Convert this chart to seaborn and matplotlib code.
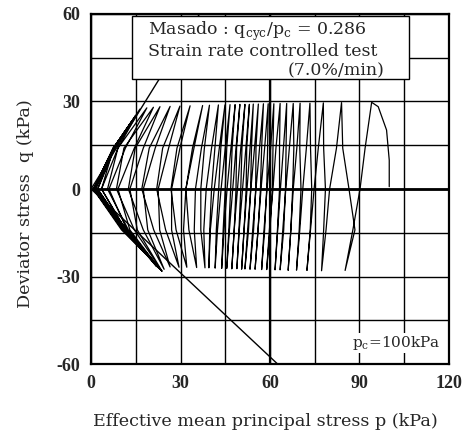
import numpy as np
import pandas as pd
import matplotlib
matplotlib.use("Agg")
import matplotlib.pyplot as plt
import seaborn as sns
from matplotlib.patches import Rectangle

# initial loading from p_c = 100 kPa up to the first peak
start_p = [100.0, 100.0, 99.1, 96.3]
start_q = [0.8, 9.9, 20.2, 28.2]

# one entry per cycle (kPa)
# unloading: peak -> q=+14 -> q=0 -> q=-14 -> trough
# reloading: trough -> q=-14 -> q=0 -> q=+14 -> next peak
peak_p = [94.1, 84.0, 77.9, 73.4, 70.1, 67.8, 65.6, 63.4, 61.3, 59.4, 57.8, 56.1,
          54.4, 53.1, 51.6, 49.9, 48.3, 46.6, 44.9, 42.7, 39.7, 37.4, 33.2, 29.8,
          26.5, 23.1, 20.9, 18.7, 16.4, 14.8, 13.5, 12.6, 13.2, 11.8, 12.4]
peak_q = [29.7, 29.6, 29.5, 29.4, 29.4, 29.3, 29.3, 29.3, 29.2, 29.2, 29.2, 29.1,
          29.1, 29.0, 29.0, 29.0, 28.9, 28.9, 28.8, 28.8, 28.7, 28.6, 28.5, 28.4,
          28.3, 28.2, 28.0, 27.8, 27.4, 25.0, 23.0, 21.5, 22.5, 20.5, 21.0]
unload_hi_p = [91.9, 82.3, 76.2, 72.2, 69.0, 66.5, 64.5, 62.0, 60.2, 58.2, 56.5, 54.8,
               53.3, 51.9, 50.2, 48.6, 46.9, 45.0, 43.0, 40.4, 37.0, 34.5, 29.8, 26.0,
               21.5, 17.5, 14.5, 11.5, 9.0, 8.0, 7.4, 7.6, 7.9, 7.5, 7.4]
unload_0_p = [90.2, 80.0, 74.8, 71.0, 67.8, 65.3, 63.5, 61.0, 59.0, 57.0, 55.3, 53.6,
              52.3, 50.8, 49.1, 47.5, 45.6, 43.6, 41.3, 38.6, 35.0, 31.8, 27.0, 22.5,
              17.5, 13.0, 9.0, 6.0, 3.5, 2.2, 1.5, 1.2, 1.0, 0.9, 0.8]
unload_lo_p = [87.8, 78.8, 73.6, 70.0, 67.0, 64.3, 62.6, 59.8, 58.0, 56.0, 54.2, 52.5,
               51.3, 49.7, 48.0, 46.4, 44.6, 42.4, 40.0, 37.8, 34.6, 31.0, 27.0, 23.0,
               19.0, 15.5, 13.0, 12.0, 11.6, 11.8, 11.2, 12.0, 11.0, 11.7, 10.8]
trough_p = [85.2, 77.3, 72.4, 68.9, 66.1, 63.4, 61.7, 58.9, 57.2, 55.0, 53.3, 51.6,
            50.5, 48.9, 47.2, 45.5, 43.8, 41.6, 39.5, 38.2, 35.4, 32.1, 29.5, 26.5,
            24.5, 23.7, 22.8, 22.0, 23.0, 23.5, 22.5, 23.8, 21.0, 22.6, 20.5]
trough_q = [-27.9, -28.0, -27.9, -27.8, -27.8, -27.7, -27.7, -27.6, -27.6, -27.5, -27.5, -27.4,
            -27.4, -27.3, -27.3, -27.2, -27.2, -27.1, -27.0, -27.0, -26.9, -26.8, -26.8, -26.7,
            -27.5, -28.0, -27.2, -26.6, -27.4, -27.8, -26.8, -28.2, -25.0, -27.0, -24.5]
reload_lo_p = [88.5, 78.0, 73.5, 69.8, 67.0, 64.6, 62.5, 60.0, 58.2, 56.0, 54.5, 52.8,
               51.3, 49.6, 48.0, 46.2, 44.3, 42.0, 39.8, 36.8, 32.8, 28.5, 25.0, 21.0,
               17.5, 14.5, 12.5, 11.5, 11.2, 11.6, 11.0, 11.8, 10.6, 11.4, 10.2]
reload_0_p = [86.5, 78.6, 74.0, 70.4, 67.6, 65.2, 63.2, 60.8, 58.9, 56.8, 55.2, 53.5,
              52.0, 50.2, 48.6, 46.8, 45.0, 42.8, 40.4, 36.8, 31.8, 26.8, 22.0, 17.0,
              12.5, 8.5, 5.5, 3.5, 2.2, 1.5, 1.2, 1.0, 0.8, 0.8, 0.7]
reload_hi_p = [84.4, 78.0, 73.6, 70.0, 68.0, 65.4, 63.2, 61.0, 59.2, 57.2, 55.3, 53.8,
               52.2, 50.6, 48.8, 47.3, 45.5, 43.5, 41.5, 38.0, 34.0, 28.8, 24.0, 19.5,
               14.8, 11.0, 9.0, 7.5, 7.6, 7.6, 7.8, 7.9, 7.6, 7.4, 7.7]

# critical state lines (compression / extension side)
csl_c_p = [0.0, 36.4]
csl_c_q = [0.0, 60.0]
csl_e_p = [0.0, 62.6]
csl_e_q = [0.0, -60.0]

x_ticks = [0, 30, 60, 90, 120]
y_ticks = [-60, -30, 0, 30, 60]

# build the stress path
path_p = list(start_p)
path_q = list(start_q)
for k in range(len(peak_p)):
    path_p += [peak_p[k], unload_hi_p[k], unload_0_p[k], unload_lo_p[k], trough_p[k],
               reload_lo_p[k], reload_0_p[k], reload_hi_p[k]]
    path_q += [peak_q[k], 14.0, 0.0, -14.0, trough_q[k], -14.0, 0.0, 14.0]
path = pd.DataFrame({"p": path_p, "q": path_q})

sns.set_style("white")
plt.rcParams["axes.unicode_minus"] = False
fig = plt.figure(figsize=(4.72, 4.33), dpi=100)
ax = fig.add_axes([0.193, 0.159, 0.758, 0.809])

sns.lineplot(data=path, x="p", y="q", sort=False, estimator=None, color="black",
             lw=0.9, ax=ax, zorder=3)
sns.lineplot(x=csl_c_p, y=csl_c_q, color="black", lw=1.0, ax=ax, zorder=3)
sns.lineplot(x=csl_e_p, y=csl_e_q, color="black", lw=1.0, ax=ax, zorder=3)

ax.set_xlim(0, 120)
ax.set_ylim(-60, 60)
ax.set_xticks(x_ticks)
ax.set_yticks(y_ticks)
ax.set_xticks(np.arange(0, 121, 15), minor=True)
ax.set_yticks(np.arange(-60, 61, 15), minor=True)
ax.grid(which="both", color="black", lw=1.0, zorder=1)
ax.axhline(0, color="black", lw=2.0, zorder=2)
ax.axvline(60, color="black", lw=1.6, zorder=2)
ax.tick_params(which="both", length=0, pad=8)
for t in ax.get_xticklabels() + ax.get_yticklabels():
    t.set_fontfamily("Liberation Serif")
    t.set_fontweight("bold")
    t.set_fontsize(13)
for s in ax.spines.values():
    s.set_color("black")
    s.set_linewidth(1.6)

lab = dict(family="DejaVu Serif", fontsize=12.6)
ax.set_xlabel("Effective mean principal stress p (kPa)", **lab)
ax.set_ylabel("Deviator stress  q (kPa)", **lab)
ax.xaxis.set_label_coords(0.486, -0.165)
ax.xaxis.label.set_va("center")
ax.yaxis.set_label_coords(-0.182, 0.459)
ax.yaxis.label.set_va("center")

ax.add_patch(Rectangle((13.6, 37.7), 93.0, 21.5, facecolor="white", edgecolor="black",
                       lw=1.0, zorder=5))
box_font = dict(family="DejaVu Serif", fontsize=12.5, va="center", zorder=6)
ax.text(19, 54.0, r"Masado : q$_{\mathregular{cyc}}$/p$_{\mathregular{c}}$ = 0.286", **box_font)
ax.text(19, 47.2, "Strain rate controlled test", **box_font)
ax.text(98.5, 40.6, "(7.0%/min)", ha="right", **box_font)
ax.text(87.5, -52.8, r"p$_{\mathregular{c}}$=100kPa", family="DejaVu Serif",
        fontsize=11, va="center", zorder=6,
        bbox=dict(facecolor="white", edgecolor="none", pad=0.5))

fig.savefig("out.png", dpi=100)
